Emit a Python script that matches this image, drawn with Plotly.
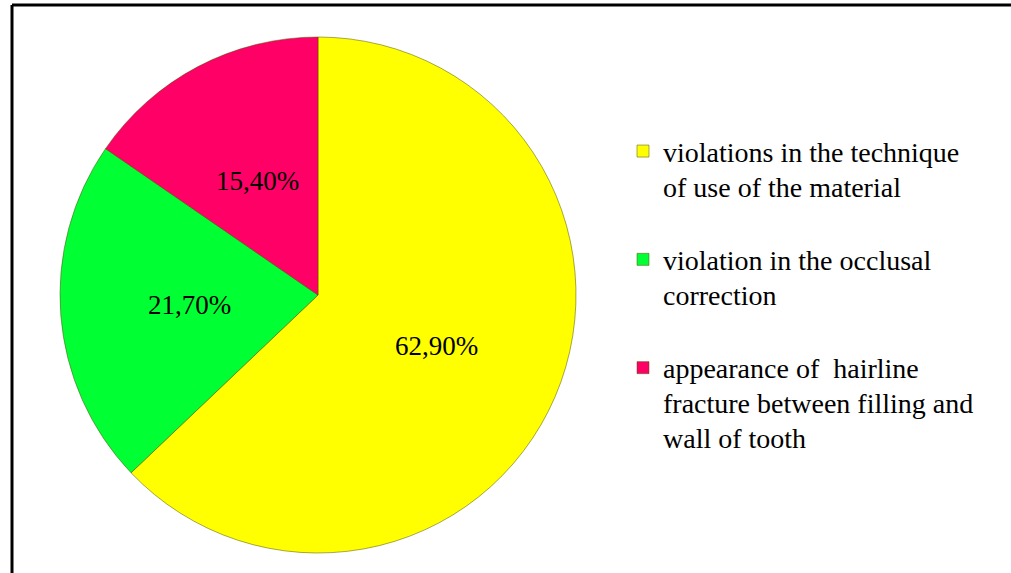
import math
import plotly.graph_objects as go

label_lines = [
    ["violations in the technique", "of use of the material", " "],
    ["violation in the occlusal", "correction", " "],
    ["appearance of  hairline", "fracture between filling and", "wall of tooth"],
]
values = [62.9, 21.7, 15.4]
value_texts = ["62,90%", "21,70%", "15,40%"]
colors = ["#FFFF00", "#00FF33", "#FF0066"]

W, H = 1011, 573
cx, cy, r = 318, 295, 258

span = '<span style="font-size:28px">{}</span>'
labels = ["<br>".join(span.format(t) for t in lines) for lines in label_lines]

fig = go.Figure(go.Pie(
    labels=labels,
    values=values,
    sort=False,
    direction="clockwise",
    rotation=0,
    marker=dict(colors=colors, line=dict(color="rgba(80,80,0,0.5)", width=1)),
    textinfo="none",
    domain=dict(x=[(cx - r) / W, (cx + r) / W], y=[1 - (cy + r) / H, 1 - (cy - r) / H]),
    hoverinfo="skip",
))

# value labels at the mid-angle of each slice, half-way out along the radius
total = sum(values)
annotations = []
cum = 0.0
for v, t in zip(values, value_texts):
    mid = (cum + v / 2) / total * 2 * math.pi
    cum += v
    px = cx + 0.5 * r * math.sin(mid)
    py = cy - 0.5 * r * math.cos(mid)
    annotations.append(dict(
        x=px / W, y=1 - py / H, xref="paper", yref="paper",
        text=t, showarrow=False, xanchor="center", yanchor="middle",
        font=dict(family="Liberation Serif", size=27, color="#000000"),
    ))

fig.update_layout(
    width=W, height=H,
    margin=dict(l=0, r=0, t=0, b=0),
    paper_bgcolor="white",
    font=dict(family="Liberation Serif", color="#000000"),
    showlegend=True,
    legend=dict(
        x=623 / W, y=1 - 127 / H, xanchor="left", yanchor="top",
        valign="top",
        font=dict(family="Liberation Serif", size=27, color="#000000"),
        bgcolor="rgba(0,0,0,0)",
    ),
    annotations=annotations,
    shapes=[
        dict(type="line", xref="paper", yref="paper", x0=12 / W, x1=1, y0=1 - 5 / H, y1=1 - 5 / H,
             line=dict(color="black", width=3)),
        dict(type="line", xref="paper", yref="paper", x0=12 / W, x1=12 / W, y0=0, y1=1 - 5 / H,
             line=dict(color="black", width=3)),
    ],
)

fig.write_html("out.html", config={"displayModeBar": False},
               post_script="document.body.style.margin='0';")
